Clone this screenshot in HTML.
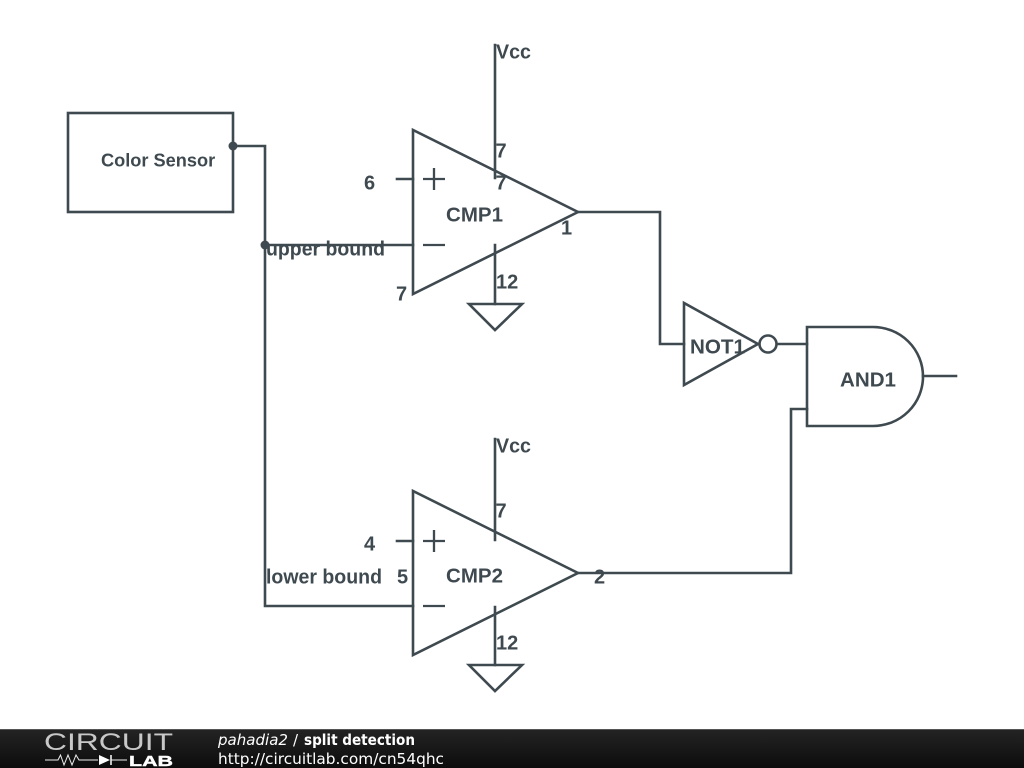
<!DOCTYPE html>
<html>
<head>
<meta charset="utf-8">
<style>
html,body{margin:0;padding:0;background:#fff;width:1024px;height:768px;overflow:hidden}
svg{display:block}
.w{fill:none;stroke:#3f4a50;stroke-width:2.6;stroke-linejoin:miter;stroke-linecap:square}
.t{fill:none;stroke:#3f4a50;stroke-width:2.3;stroke-linecap:butt}
text.l{font-family:"Liberation Sans",Arial,sans-serif;font-weight:bold;font-size:20px;fill:#3f4a50}
text.f{font-family:"DejaVu Sans",sans-serif;font-size:15.4px;fill:#fff}
</style>
</head>
<body>
<svg width="1024" height="768" viewBox="0 0 1024 768" xmlns="http://www.w3.org/2000/svg">
<defs>
<linearGradient id="g" x1="0" y1="0" x2="0" y2="1">
<stop offset="0" stop-color="#242424"/>
<stop offset="1" stop-color="#0c0c0c"/>
</linearGradient>
</defs>
<rect width="1024" height="768" fill="#fff"/>

<rect class="w" x="68" y="113" width="165" height="99"/>
<path class="w" d="M233 146H265V606H413"/>
<path class="w" d="M265 245H413"/>
<circle cx="233" cy="146" r="4.500" fill="#3f4a50"/>
<circle cx="265" cy="245" r="4.500" fill="#3f4a50"/>

<path class="w" d="M413 130V294L578 212Z"/>
<path class="w" d="M397 179H413"/>
<path class="t" d="M423 179H445M434 168V190M423 245H445"/>
<path class="w" d="M495 45V178M495 245V304"/>
<path class="w" d="M469 304H522L495 330Z"/>

<path class="w" d="M578 212H660V344H684"/>
<path class="w" d="M684 303V385L758 344Z"/>
<circle class="w" cx="768" cy="344" r="8.500"/>
<path class="w" d="M777 344H807"/>
<path class="w" d="M807 327H873A50 49.500 0 0 1 873 426H807Z"/>
<path class="w" d="M923 376H956"/>

<path class="w" d="M413 491V655L578 573Z"/>
<path class="w" d="M397 541H413"/>
<path class="t" d="M423 541H445M434 530V552M423 606H445"/>
<path class="w" d="M495 439V540M495 607V665"/>
<path class="w" d="M469 665H522L495 691Z"/>
<path class="w" d="M578 573H791V409H807"/>

<text class="l" x="496" y="58.500" textLength="35" lengthAdjust="spacingAndGlyphs">Vcc</text>
<text class="l" x="101" y="166.500" style="font-size:18.200px">Color Sensor</text>
<text class="l" x="495.500" y="157.500">7</text>
<text class="l" x="495.500" y="189.500">7</text>
<text class="l" x="364" y="189.500">6</text>
<text class="l" x="446" y="221.500" textLength="57" lengthAdjust="spacingAndGlyphs">CMP1</text>
<text class="l" x="561" y="234.500">1</text>
<text class="l" x="266" y="255.500" textLength="119" lengthAdjust="spacingAndGlyphs">upper bound</text>
<text class="l" x="396" y="300.500">7</text>
<text class="l" x="496" y="288.500">12</text>
<text class="l" x="690" y="353.500" textLength="55" lengthAdjust="spacingAndGlyphs">NOT1</text>
<text class="l" x="840" y="386.500" textLength="56" lengthAdjust="spacingAndGlyphs">AND1</text>
<text class="l" x="496" y="452.500" textLength="35" lengthAdjust="spacingAndGlyphs">Vcc</text>
<text class="l" x="495.500" y="517.500">7</text>
<text class="l" x="364" y="550.500">4</text>
<text class="l" x="266" y="583.500" textLength="116" lengthAdjust="spacingAndGlyphs">lower bound</text>
<text class="l" x="397" y="583.500">5</text>
<text class="l" x="446" y="582.500" textLength="57" lengthAdjust="spacingAndGlyphs">CMP2</text>
<text class="l" x="594" y="583.500">2</text>
<text class="l" x="496" y="649.500">12</text>

<rect x="0" y="729" width="1024" height="39" fill="url(#g)"/>
<rect x="0" y="729" width="1024" height="1" fill="#555"/>
<text x="44" y="750" font-family="Liberation Sans,sans-serif" font-size="24" fill="#c8c8c8" textLength="129" lengthAdjust="spacingAndGlyphs">CIRCUIT</text>
<path d="M45 760H58L60.500 755L64 765L68 755L72 765L76 755L79 760H98" fill="none" stroke="#eee" stroke-width="1"/>
<path d="M99 755V765L110 760Z" fill="#fff"/>
<path d="M111 755V765" stroke="#fff" stroke-width="1.500"/>
<path d="M111 760H127" stroke="#eee" stroke-width="1"/>
<text x="129" y="766" font-family="Liberation Sans,sans-serif" font-weight="bold" font-size="15" fill="#fff" stroke="#fff" stroke-width="0.4" textLength="44" lengthAdjust="spacingAndGlyphs">LAB</text>
<text class="f" x="218" y="745" style="font-size:15px" font-style="italic" textLength="70" lengthAdjust="spacingAndGlyphs">pahadia2</text>
<text class="f" x="293" y="745" style="font-size:15px">/</text>
<text class="f" x="304" y="745" style="font-size:15px" font-weight="bold" textLength="111" lengthAdjust="spacingAndGlyphs">split detection</text>
<text class="f" x="218" y="764" textLength="226" lengthAdjust="spacingAndGlyphs">http://circuitlab.com/cn54qhc</text>
</svg>
</body>
</html>
